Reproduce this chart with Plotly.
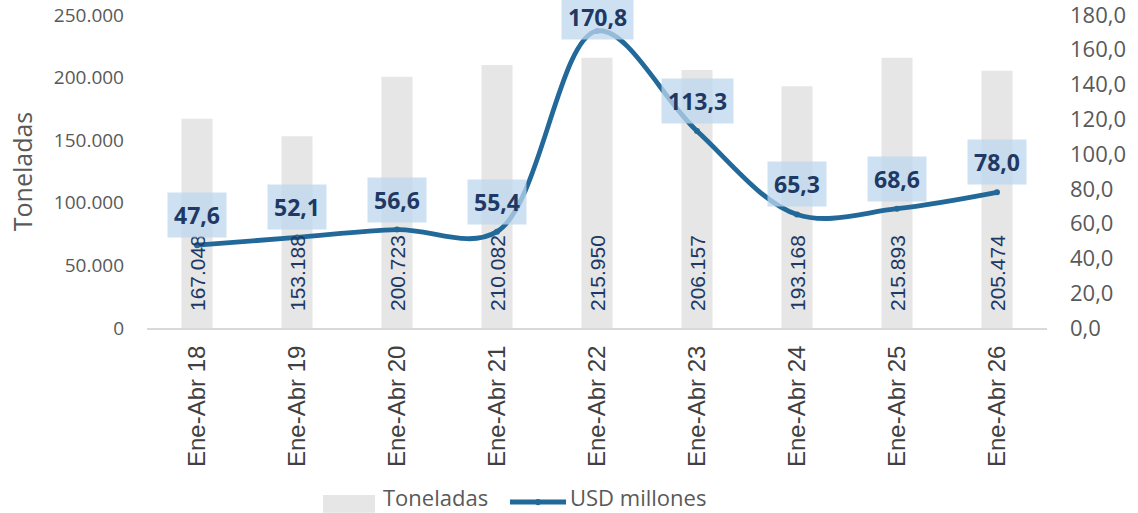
import plotly.graph_objects as go

categories = ["Ene-Abr 18", "Ene-Abr 19", "Ene-Abr 20", "Ene-Abr 21", "Ene-Abr 22",
              "Ene-Abr 23", "Ene-Abr 24", "Ene-Abr 25", "Ene-Abr 26"]
toneladas = [167048, 153188, 200723, 210082, 215950, 206157, 193168, 215893, 205474]
usd_millones = [47.6, 52.1, 56.6, 55.4, 170.8, 113.3, 65.3, 68.6, 78.0]
left_ticks = [0, 50000, 100000, 150000, 200000, 250000]
right_ticks = [0, 20, 40, 60, 80, 100, 120, 140, 160, 180]

FONT = "Open Sans, Noto Sans, sans-serif"
ARIAL = "Liberation Sans, Arial, sans-serif"
NAVY = "#203864"
GREY_TXT = "#595959"
LINE_C = "#22699a"
BAR_C = "#e6e6e6"

fig = go.Figure()
fig.add_trace(go.Bar(
    x=categories, y=toneladas, name="Toneladas",
    marker=dict(color=BAR_C, line=dict(width=0)),
    width=0.31, showlegend=False,
    hoverinfo="skip",
))
fig.add_trace(go.Scatter(
    x=categories, y=usd_millones, name="USD millones", yaxis="y2",
    mode="lines+markers", showlegend=False,
    line=dict(color=LINE_C, width=4.8, shape="spline", smoothing=1.0),
    marker=dict(color=LINE_C, size=6),
    hoverinfo="skip",
))

# bar value labels (rotated, at bar base)
for c, v in zip(categories, toneladas):
    fig.add_annotation(
        x=c, y=0, xref="x", yref="y", yanchor="bottom", xanchor="center",
        yshift=15, textangle=-90,
        text=f"{v:,.0f}".replace(",", "."),
        showarrow=False,
        font=dict(family=ARIAL, size=21, color=NAVY),
    )

# line value labels
for c, v in zip(categories, usd_millones):
    shift = 30
    if v > 160:
        shift = 14
    fig.add_annotation(
        x=c, y=v, xref="x", yref="y2", yshift=shift,
        text="<b>" + f"{v:.1f}".replace(".", ",") + "</b>",
        showarrow=False,
        font=dict(family=FONT, size=23, color=NAVY),
        bgcolor="rgba(189,215,238,0.75)", borderpad=6,
    )

# custom legend
fig.add_shape(type="rect", xref="paper", yref="paper",
              x0=0.1956, x1=0.2533, y0=-0.5335, y1=-0.59,
              fillcolor=BAR_C, line=dict(width=0))
fig.add_annotation(x=0.26, y=-0.540, xref="paper", yref="paper",
                   xanchor="left", yanchor="middle", showarrow=False,
                   text="Toneladas", font=dict(family=FONT, size=22, color=GREY_TXT))
fig.add_shape(type="line", xref="paper", yref="paper",
              x0=0.4033, x1=0.4656, y0=-0.556, y1=-0.556,
              line=dict(color=LINE_C, width=5))
fig.add_shape(type="circle", xref="paper", yref="paper",
              x0=0.4311, x1=0.4378, y0=-0.546, y1=-0.566,
              fillcolor=LINE_C, line=dict(width=0))
fig.add_annotation(x=0.468, y=-0.540, xref="paper", yref="paper",
                   xanchor="left", yanchor="middle", showarrow=False,
                   text="USD millones", font=dict(family=FONT, size=22, color=GREY_TXT))

fig.update_layout(
    width=1138, height=513,
    margin=dict(l=147, r=91, t=15, b=185),
    plot_bgcolor="white", paper_bgcolor="white",
    separators=",.",
    font=dict(family=FONT, color=GREY_TXT),
    showlegend=False,
    xaxis=dict(
        tickangle=-90, showgrid=False, automargin=False,
        showline=True, linecolor="#d9d9d9", linewidth=2,
        ticks="", tickfont=dict(family=ARIAL, size=24, color="#404040"),
        range=[-0.5, 8.5], ticklabelstandoff=6,
    ),
    yaxis=dict(
        range=[0, 250000], tickvals=left_ticks, tickformat=",.0f",
        showgrid=False, zeroline=False, showline=False, automargin=False,
        tickfont=dict(family=FONT, size=19, color=GREY_TXT),
        title=dict(text="Toneladas", font=dict(family=FONT, size=25, color=GREY_TXT), standoff=14),
        ticklabelstandoff=22, ticklabeloverflow="allow",
    ),
    yaxis2=dict(
        range=[0, 180], tickvals=right_ticks, tickformat=".1f",
        overlaying="y", side="right", automargin=False,
        showgrid=False, zeroline=False, showline=False,
        tickfont=dict(family=FONT, size=22, color=GREY_TXT),
        ticklabelstandoff=22, ticklabeloverflow="allow",
    ),
)

fig.write_html("out.html", config={"displayModeBar": False},
               post_script="document.body.style.margin='0px';document.body.style.overflow='hidden';")
